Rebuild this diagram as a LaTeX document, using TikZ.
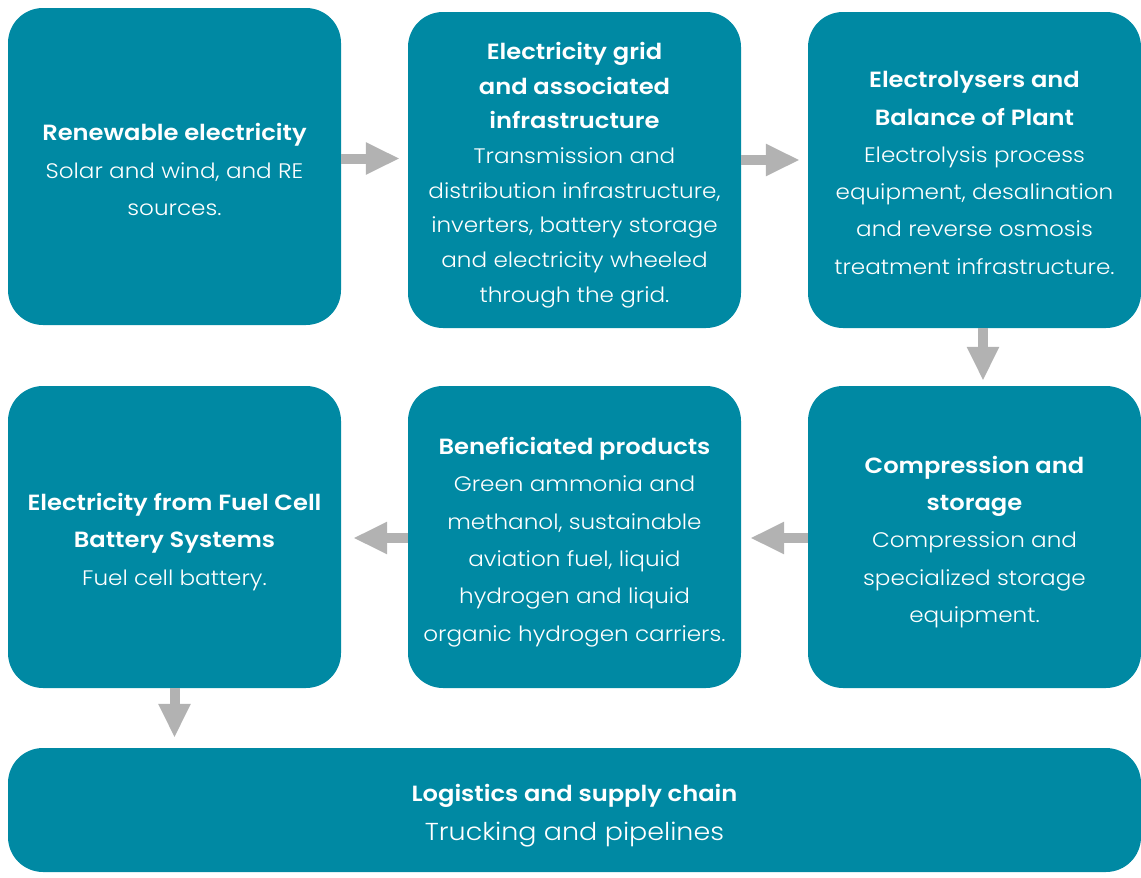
\documentclass[tikz,border=0pt]{standalone}
\usepackage{fontspec}
\setmainfont{Poppins}[FakeStretch=1.1]
\newfontfamily\bodyfont{Poppins Light}[FakeStretch=1.1]
\usetikzlibrary{arrows.meta}
\definecolor{teal}{RGB}{0,137,163}
\definecolor{arrowgray}{RGB}{178,178,178}
\newcommand{\hd}[1]{{\fontsize{22}{37.3}\selectfont\bfseries #1}}
\newcommand{\hdtight}[1]{{\fontsize{22}{34.7}\selectfont\bfseries #1}}
\tikzset{
  stage/.style={fill=teal, draw=none, rounded corners=35pt,
    inner sep=0pt, minimum width=333pt, minimum height=316pt},
  caption/.style={text=white, align=center, inner sep=0pt,
    font=\bodyfont\fontsize{21}{37.3}\selectfont},
  tightcaption/.style={caption,
    font=\bodyfont\fontsize{21}{34.7}\selectfont},
  flow/.style={draw=arrowgray, line width=10pt,
    -{Triangle[length=34pt,width=30pt]}}
}
\begin{document}
\begin{tikzpicture}[x=1pt,y=-1pt]
\useasboundingbox (0,0) rectangle (1141,878);

% boxes
\node[stage, minimum height=317pt] (b1) at (174.5,166.5) {};
\node[stage] (b2) at (574.5,170) {};
\node[stage] (b3) at (974.5,170) {};
\node[stage, minimum height=302pt] (b4) at (174.5,537) {};
\node[stage, minimum height=302pt] (b5) at (574.5,537) {};
\node[stage, minimum height=302pt] (b6) at (974.5,537) {};
\node[stage, minimum width=1133pt, minimum height=124pt] (b7) at (574.5,810) {};

% box texts
\node[caption] (t1) at ([yshift=-3pt]b1.center)
  {\hd{Renewable electricity}\\Solar and wind, and RE\\sources.};
\node[tightcaption] (t2) at ([yshift=-5pt]b2.center)
  {\hdtight{Electricity grid}\\\hdtight{and associated}\\\hdtight{infrastructure}\\Transmission and\\distribution infrastructure,\\inverters, battery storage\\and electricity wheeled\\through the grid.};
\node[caption] (t3) at ([yshift=-3pt]b3.center)
  {\hd{Electrolysers and}\\\hd{Balance of Plant}\\Electrolysis process\\equipment, desalination\\and reverse osmosis\\treatment infrastructure.};
\node[caption] (t4) at ([yshift=-5pt]b4.center)
  {\hd{Electricity from Fuel Cell}\\\hd{Battery Systems}\\Fuel cell battery.};
\node[caption] (t5) at ([yshift=-5pt]b5.center)
  {\hd{Beneficiated products}\\Green ammonia and\\methanol, sustainable\\aviation fuel, liquid\\hydrogen and liquid\\organic hydrogen carriers.};
\node[caption] (t6) at ([yshift=-5pt]b6.center)
  {\hd{Compression and}\\\hd{storage}\\Compression and\\specialized storage\\equipment.};
\node[caption] (t7) at ([yshift=-6pt]b7.center)
  {\hd{Logistics and supply chain}\\[2pt]{\fontsize{24.5}{36}\selectfont Trucking and pipelines}};

% connectors
\draw[flow, shorten >=8pt] ([yshift=8pt]b1.east) -- ([yshift=8pt]b1.east -| b2.west);
\draw[flow, shorten >=8pt] ([yshift=10pt]b2.east) -- ([yshift=10pt]b2.east -| b3.west);
\draw[flow, shorten >=5pt] ([xshift=8.5pt]b3.south) -- ([xshift=8.5pt]b3.south |- b6.north);
\draw[flow, shorten >=9pt] ([yshift=-1pt]b6.west) -- ([yshift=-1pt]b6.west -| b5.east);
\draw[flow, shorten >=12pt] ([yshift=-1pt]b5.west) -- ([yshift=-1pt]b5.west -| b4.east);
\draw[flow, shorten >=10pt] (b4.south) -- (b4.south |- b7.north);
\end{tikzpicture}
\end{document}
